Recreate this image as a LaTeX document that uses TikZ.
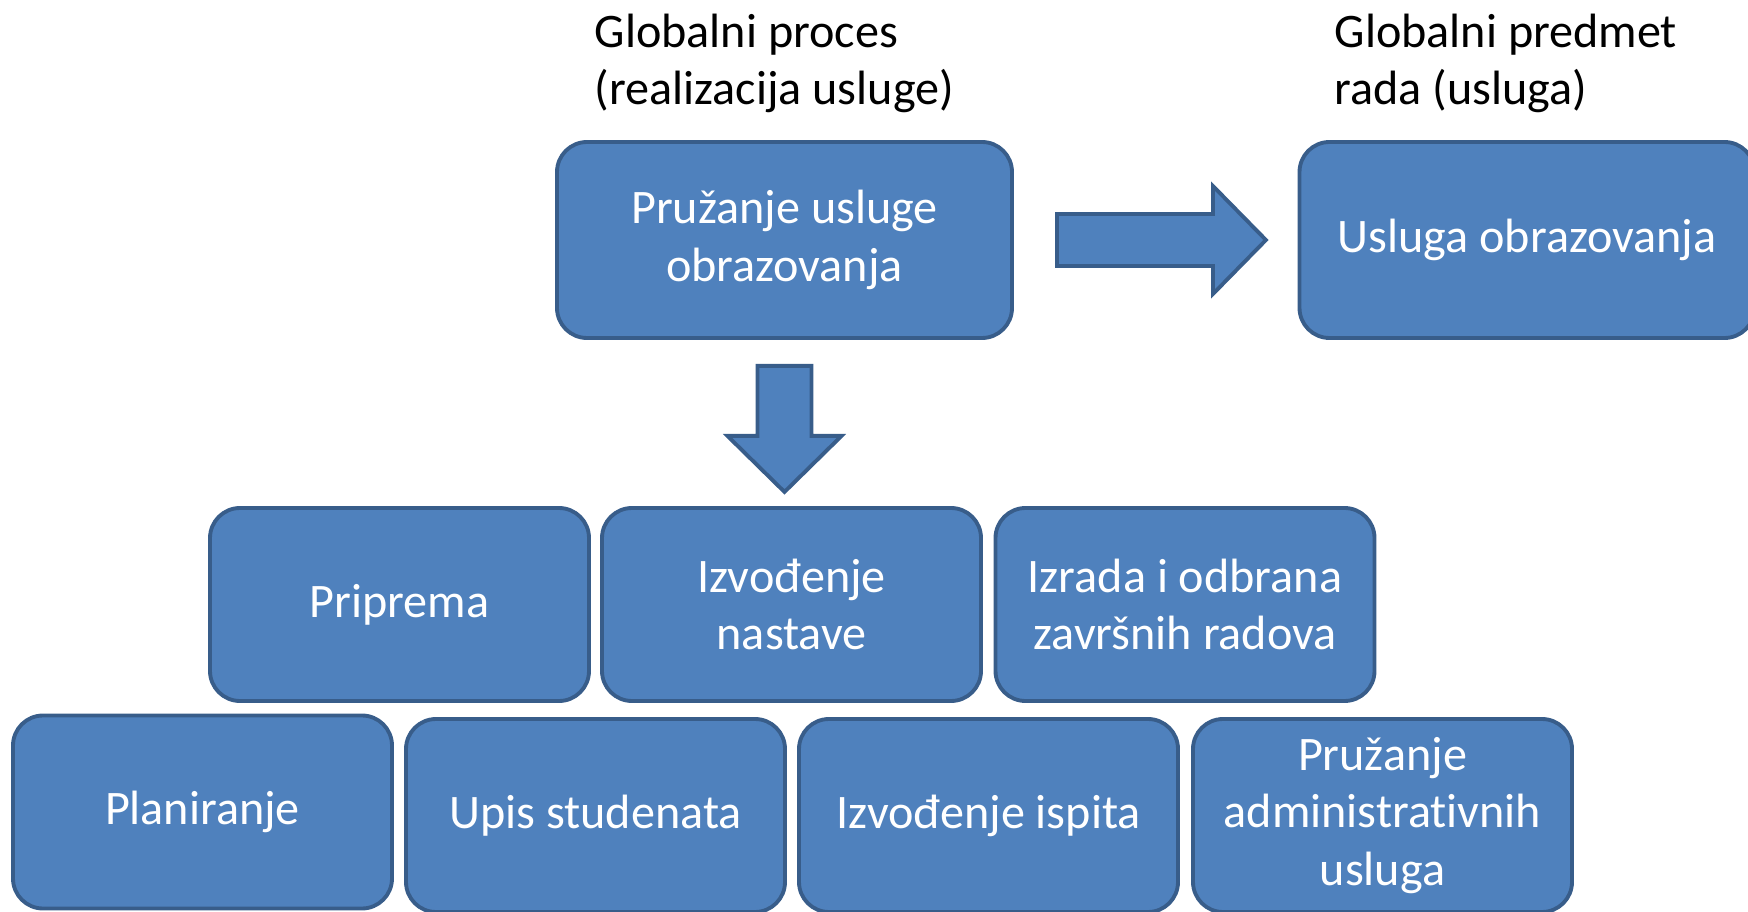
\documentclass[tikz,border=0pt]{standalone}
\usepackage{fontspec}
\setmainfont{Carlito}[RawFeature=-liga]
\usepackage{xcolor}
\definecolor{BoxBlue}{HTML}{4F81BD}
\definecolor{BoxEdge}{HTML}{385D8A}
\usepackage{tikz}
\usetikzlibrary{positioning}
\newcommand{\boxfont}{\fontsize{13.7}{16.3}\selectfont}
\tikzset{
  box/.style={
    rectangle, rounded corners=3mm,
    fill=BoxBlue, draw=BoxEdge, line width=1.1pt,
    text=white, align=center, inner sep=0pt,
    minimum width=#1, minimum height=19.3mm,
    font=\boxfont
  },
  box/.default=37.9mm,
  title/.style={anchor=north west, align=left, inner sep=0pt, font=\boxfont},
  blockarr/.style={fill=BoxBlue, draw=BoxEdge, line width=1.1pt},
}

\begin{document}
\begin{tikzpicture}[x=0.1mm, y=-0.1mm]
\useasboundingbox (0,0) rectangle (1748,912);

% Titles
\node[title] at (594,13) (gproc) {Globalni proces\\(realizacija usluge)};
\node[title] at (1334,13) (gpred) {Globalni predmet\\rada (usluga)};

% Global process and its result
\node[box=45.5mm, minimum height=19.6mm] at (784.5,240) (pruz) {Pružanje usluge\\obrazovanja};
\node[box=45.5mm, minimum height=19.6mm] at (1527,240) (usl) {Usluga obrazovanja};

% Middle row
\node[box] at (399.5,604.5) (prip) {Priprema};
\node[box] at (791.5,604.5) (izvn) {Izvođenje\\nastave};
\node[box] at (1185,604.5) (izr) {Izrada i odbrana\\završnih radova};

% Bottom row
\node[box] at (202.5,812) (plan) {Planiranje};
\node[box] at (595.5,815.5) (upis) {Upis studenata};
\node[box] at (988.5,815.5) (izvi) {Izvođenje ispita};
\node[box] at (1382.5,815.5) (adm) {Pružanje\\administrativnih\\usluga};

% Block arrows
\coordinate (rstart) at ([xshift=4.3mm]pruz.east);
\coordinate (dstart) at ([yshift=-2.6mm]pruz.south);
\draw[blockarr] (rstart) ++(0,-26) -- ++(156,0) -- ++(0,-28) -- ++(53,54)
  -- ++(-53,54) -- ++(0,-28) -- ++(-156,0) -- cycle;
\draw[blockarr] (dstart) ++(-27,0) -- ++(0,70) -- ++(-30,0) -- ++(57,56)
  -- ++(57,-56) -- ++(-30,0) -- ++(0,-70) -- cycle;

\end{tikzpicture}
\end{document}
